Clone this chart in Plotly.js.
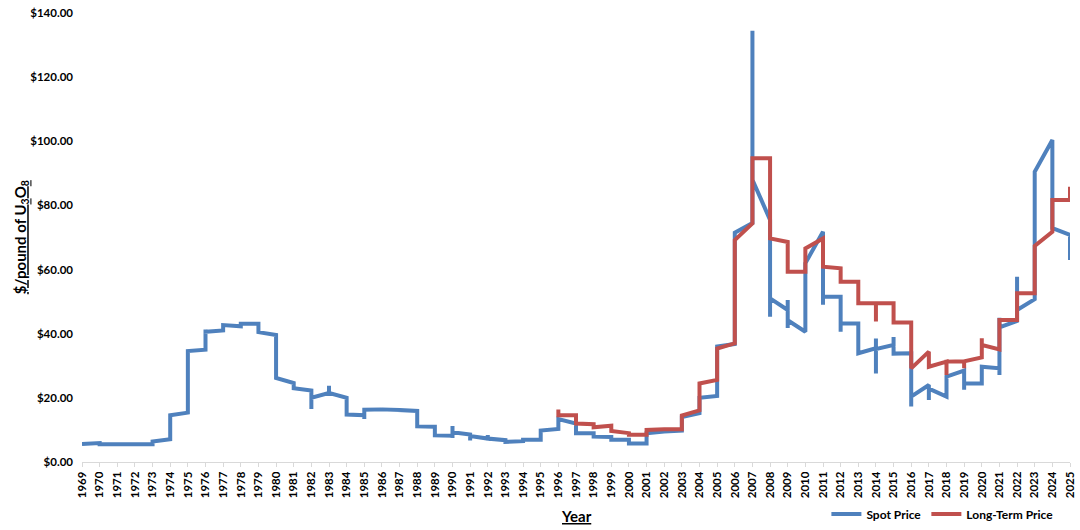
<!DOCTYPE html>
<html>
<head>
<meta charset="utf-8">
<script src="https://cdn.plot.ly/plotly-3.0.1.min.js"></script>
<style>
  html, body { margin: 0; padding: 0; background: #fff; }
  #chart { width: 1080px; height: 530px; }
</style>
</head>
<body>
<div id="chart"></div>
<script>
// each year can hold several readings, drawn on the same year tick
var spotYears = [1969, 1970, 1971, 1972, 1973, 1974, 1975, 1976, 1977, 1978, 1979, 1980, 1981, 1982, 1983, 1984,
    1985, 1986, 1987, 1988, 1989, 1990, 1991, 1992, 1993, 1994, 1995, 1996, 1997, 1998, 1999, 2000,
    2001, 2002, 2003, 2004, 2005, 2006, 2007, 2008, 2009, 2010, 2011, 2012, 2013, 2014, 2015, 2016,
    2017, 2018, 2019, 2020, 2021, 2022, 2023, 2024, 2025];
var spotPrices = [
    [5.6], [5.9, 5.5], [5.5], [5.5], [5.5, 6.4], [7.1, 14.6], [15.4, 34.6], [35.0, 41.3, 40.6],
    [41.0, 42.7], [42.3, 43.1], [43.1, 40.5], [39.6, 26.2], [24.6, 23.0], [22.3, 16.5, 20.0],
    [21.5, 23.8, 21.5], [20.0, 14.8], [14.6, 13.4, 16.3], [16.4, 16.9, 16.4], [16.2, 16.6, 16.2],
    [15.9, 11.1], [11.0, 8.3], [8.2, 11.2, 7.5, 9.3], [8.6, 6.7, 8.1], [7.3, 8.4, 7.3], [6.8, 6.3],
    [6.5, 6.9], [6.9, 9.8], [10.3, 13.4], [12.0, 9.0], [9.0, 7.9], [7.8, 6.9], [6.9, 5.8],
    [5.8, 9.0], [9.5], [9.8, 14.0], [15.2, 20.0], [20.6, 36.0], [36.8, 71.5], [74.5, 134.5, 88.0],
    [75.5, 45.3, 51.0], [47.4, 50.5, 41.8, 44.2], [40.6, 62.0], [71.8, 49.0, 51.5], [51.5, 40.6, 43.2],
    [43.2, 33.9], [35.5, 38.5, 27.6, 35.2], [36.5, 39.0, 33.8], [33.9, 17.3, 20.4], [24.0, 19.3, 22.9],
    [20.4, 26.6], [28.5, 22.5, 24.5], [24.5, 29.7], [29.2, 27.1, 45.0, 42.0], [44.0, 57.8, 47.4],
    [50.8, 90.5], [100.4, 72.9], [70.8, 63.0]
];

var longYears = [1996, 1997, 1998, 1999, 2000, 2001, 2002, 2003, 2004, 2005, 2006, 2007, 2008, 2009, 2010,
    2011, 2012, 2013, 2014, 2015, 2016, 2017, 2018, 2019, 2020, 2021, 2022, 2023, 2024, 2025];
var longPrices = [
    [16.4, 14.6], [14.6, 12.0], [11.8, 10.8], [11.3, 9.7], [9.0, 8.5], [8.5, 10.0], [10.2], [10.2, 14.5],
    [16.1, 24.5], [25.6, 35.4], [37.0, 69.2], [74.4, 94.7], [94.7, 69.7], [68.6, 59.3], [59.3, 66.6],
    [69.7, 60.9], [60.4, 56.2], [56.2, 49.5], [49.5, 43.8, 49.5], [49.5, 43.5], [43.5, 29.2],
    [34.4, 29.7], [31.3, 27.1, 31.3], [31.4, 29.2, 31.4], [32.6, 38.6, 36.5], [35.1, 44.3],
    [44.3, 52.6], [52.6, 67.4], [71.8, 81.7], [81.7, 85.8]
];

var yearTicks = [];
for (var yr = 1969; yr <= 2025; yr++) {
    yearTicks.push(yr);
}

function flatten(years, prices) {
    var xs = [], ys = [];
    for (var i = 0; i < years.length; i++) {
        for (var j = 0; j < prices[i].length; j++) {
            xs.push(years[i]);
            ys.push(prices[i][j]);
        }
    }
    return {x: xs, y: ys};
}

var spot = flatten(spotYears, spotPrices);
var longTerm = flatten(longYears, longPrices);

var fontFamily = 'Lato, "Open Sans", sans-serif';
var titleFont = {family: fontFamily, size: 15, color: '#000000', weight: 700, lineposition: 'under'};

var data = [
    {
        x: spot.x,
        y: spot.y,
        type: 'scatter',
        mode: 'lines',
        name: 'Spot Price',
        line: {color: '#4F81BD', width: 4}
    },
    {
        x: longTerm.x,
        y: longTerm.y,
        type: 'scatter',
        mode: 'lines',
        name: 'Long-Term Price',
        line: {color: '#C0504D', width: 4}
    }
];

var layout = {
    width: 1080,
    height: 530,
    margin: {l: 82, r: 10, t: 13, b: 68},
    paper_bgcolor: '#ffffff',
    plot_bgcolor: '#ffffff',
    font: {family: fontFamily, color: '#000000', size: 11, weight: 700},
    showlegend: true,
    legend: {
        orientation: 'h',
        xref: 'container',
        yref: 'container',
        x: 0.98,
        xanchor: 'right',
        y: 0.03,
        yanchor: 'middle',
        font: {family: fontFamily, size: 12, color: '#000000', weight: 700},
        itemwidth: 30,
        tracegroupgap: 0
    },
    xaxis: {
        range: [1969, 2025],
        automargin: false,
        tickmode: 'array',
        tickvals: yearTicks,
        ticktext: yearTicks.map(String),
        tickangle: -90,
        ticks: 'outside',
        ticklen: 4,
        tickcolor: '#D9D9D9',
        showline: true,
        linecolor: '#D9D9D9',
        linewidth: 1,
        showgrid: false,
        zeroline: false,
        tickfont: {family: fontFamily, size: 11.5, color: '#000000', weight: 700}
    },
    yaxis: {
        range: [0, 140],
        automargin: false,
        dtick: 20,
        tickformat: '$,.2f',
        showline: false,
        showgrid: false,
        zeroline: false,
        ticks: '',
        ticklabelstandoff: 8,
        tickfont: {family: fontFamily, size: 11.5, color: '#000000', weight: 700}
    },
    annotations: [
        {
            text: 'Year',
            xref: 'paper', yref: 'paper',
            x: 0.5, y: -0.12,
            xanchor: 'center', yanchor: 'middle',
            showarrow: false,
            font: titleFont
        },
        {
            text: '$/pound of U<sub>3</sub>O<sub>8</sub>',
            xref: 'paper', yref: 'paper',
            x: -0.062, y: 0.5,
            xanchor: 'center', yanchor: 'middle',
            textangle: -90,
            showarrow: false,
            font: titleFont
        }
    ]
};

Plotly.newPlot('chart', data, layout, {displayModeBar: false, responsive: false});
</script>
</body>
</html>
